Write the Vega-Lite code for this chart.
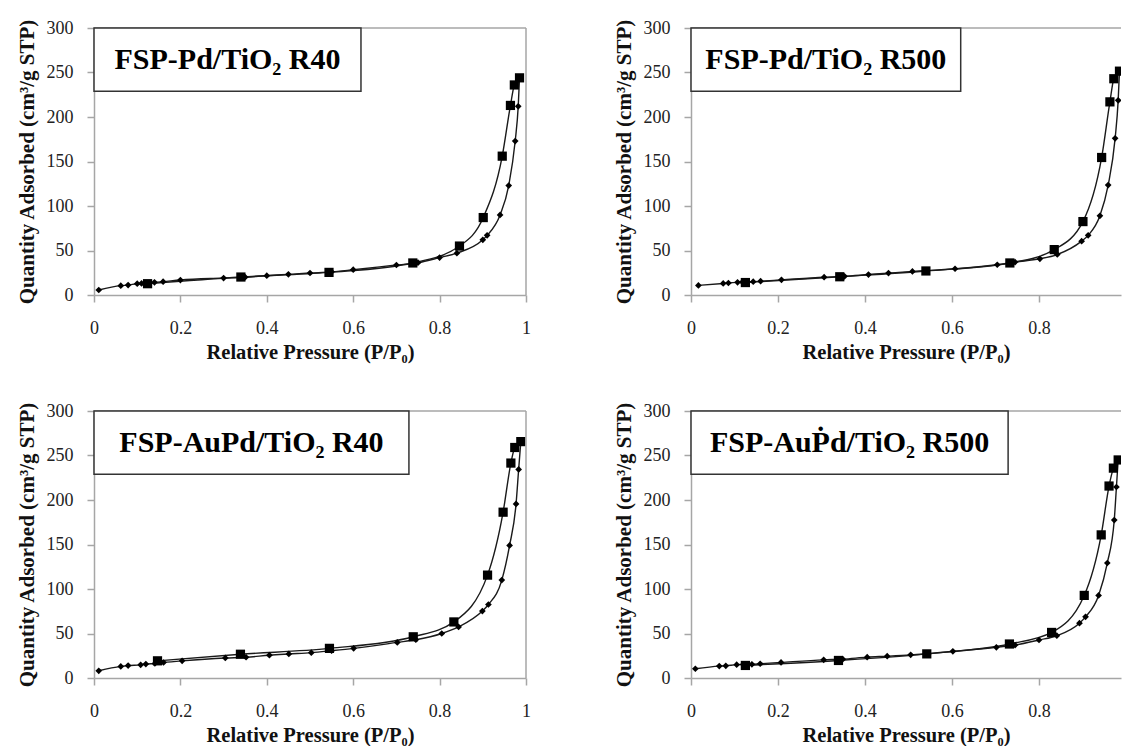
{
"$schema":"https://vega.github.io/schema/vega-lite/v6.json",
"background":"white",
"padding":{"left":15,"top":18,"right":0,"bottom":0},
"datasets":{"iso":[
{"panel":"A","branch":"ads","p":0.011,"q":5.6},{"panel":"A","branch":"ads","p":0.062,"q":10.5},{"panel":"A","branch":"ads","p":0.079,"q":11.2},{"panel":"A","branch":"ads","p":0.1,"q":12.7},{"panel":"A","branch":"ads","p":0.11,"q":13.0},{"panel":"A","branch":"ads","p":0.14,"q":14.2},{"panel":"A","branch":"ads","p":0.16,"q":15.0},{"panel":"A","branch":"ads","p":0.2,"q":16.8},{"panel":"A","branch":"ads","p":0.3,"q":19.0},{"panel":"A","branch":"ads","p":0.35,"q":20.0},{"panel":"A","branch":"ads","p":0.4,"q":21.7},{"panel":"A","branch":"ads","p":0.45,"q":23.2},{"panel":"A","branch":"ads","p":0.5,"q":24.7},{"panel":"A","branch":"ads","p":0.55,"q":26.0},{"panel":"A","branch":"ads","p":0.6,"q":28.4},{"panel":"A","branch":"ads","p":0.7,"q":33.7},{"panel":"A","branch":"ads","p":0.75,"q":36.3},{"panel":"A","branch":"ads","p":0.8,"q":42.0},{"panel":"A","branch":"ads","p":0.84,"q":47.0},{"panel":"A","branch":"ads","p":0.9,"q":62.0},{"panel":"A","branch":"ads","p":0.91,"q":67.0},{"panel":"A","branch":"ads","p":0.94,"q":90.0},{"panel":"A","branch":"ads","p":0.96,"q":123.0},{"panel":"A","branch":"ads","p":0.975,"q":173.0},{"panel":"A","branch":"ads","p":0.982,"q":212.0},{"panel":"A","branch":"ads","p":0.985,"q":244.0},
{"panel":"A","branch":"des","p":0.985,"q":244.0},{"panel":"A","branch":"des","p":0.973,"q":236.0},{"panel":"A","branch":"des","p":0.964,"q":213.0},{"panel":"A","branch":"des","p":0.945,"q":156.0},{"panel":"A","branch":"des","p":0.901,"q":87.0},{"panel":"A","branch":"des","p":0.846,"q":55.0},{"panel":"A","branch":"des","p":0.738,"q":36.0},{"panel":"A","branch":"des","p":0.544,"q":25.4},{"panel":"A","branch":"des","p":0.34,"q":20.2},{"panel":"A","branch":"des","p":0.124,"q":12.7},
{"panel":"B","branch":"ads","p":0.017,"q":10.8},{"panel":"B","branch":"ads","p":0.074,"q":13.0},{"panel":"B","branch":"ads","p":0.086,"q":13.5},{"panel":"B","branch":"ads","p":0.107,"q":14.2},{"panel":"B","branch":"ads","p":0.118,"q":14.5},{"panel":"B","branch":"ads","p":0.143,"q":15.0},{"panel":"B","branch":"ads","p":0.16,"q":15.5},{"panel":"B","branch":"ads","p":0.208,"q":17.0},{"panel":"B","branch":"ads","p":0.306,"q":20.0},{"panel":"B","branch":"ads","p":0.353,"q":21.0},{"panel":"B","branch":"ads","p":0.408,"q":23.0},{"panel":"B","branch":"ads","p":0.454,"q":24.6},{"panel":"B","branch":"ads","p":0.509,"q":26.5},{"panel":"B","branch":"ads","p":0.607,"q":29.5},{"panel":"B","branch":"ads","p":0.704,"q":34.0},{"panel":"B","branch":"ads","p":0.745,"q":37.0},{"panel":"B","branch":"ads","p":0.802,"q":40.7},{"panel":"B","branch":"ads","p":0.842,"q":45.5},{"panel":"B","branch":"ads","p":0.898,"q":60.5},{"panel":"B","branch":"ads","p":0.913,"q":67.0},{"panel":"B","branch":"ads","p":0.94,"q":89.0},{"panel":"B","branch":"ads","p":0.959,"q":123.5},{"panel":"B","branch":"ads","p":0.975,"q":176.0},{"panel":"B","branch":"ads","p":0.982,"q":218.7},{"panel":"B","branch":"ads","p":0.985,"q":251.5},
{"panel":"B","branch":"des","p":0.985,"q":251.5},{"panel":"B","branch":"des","p":0.972,"q":243.0},{"panel":"B","branch":"des","p":0.963,"q":217.0},{"panel":"B","branch":"des","p":0.944,"q":154.5},{"panel":"B","branch":"des","p":0.901,"q":82.5},{"panel":"B","branch":"des","p":0.835,"q":51.0},{"panel":"B","branch":"des","p":0.733,"q":36.0},{"panel":"B","branch":"des","p":0.54,"q":27.0},{"panel":"B","branch":"des","p":0.342,"q":20.5},{"panel":"B","branch":"des","p":0.125,"q":14.0},
{"panel":"C","branch":"ads","p":0.011,"q":8.1},{"panel":"C","branch":"ads","p":0.062,"q":13.0},{"panel":"C","branch":"ads","p":0.079,"q":14.0},{"panel":"C","branch":"ads","p":0.108,"q":14.8},{"panel":"C","branch":"ads","p":0.12,"q":15.6},{"panel":"C","branch":"ads","p":0.141,"q":16.3},{"panel":"C","branch":"ads","p":0.161,"q":17.4},{"panel":"C","branch":"ads","p":0.204,"q":19.3},{"panel":"C","branch":"ads","p":0.304,"q":22.5},{"panel":"C","branch":"ads","p":0.352,"q":23.3},{"panel":"C","branch":"ads","p":0.406,"q":25.6},{"panel":"C","branch":"ads","p":0.451,"q":27.0},{"panel":"C","branch":"ads","p":0.503,"q":28.5},{"panel":"C","branch":"ads","p":0.55,"q":30.7},{"panel":"C","branch":"ads","p":0.601,"q":33.3},{"panel":"C","branch":"ads","p":0.702,"q":40.0},{"panel":"C","branch":"ads","p":0.745,"q":43.0},{"panel":"C","branch":"ads","p":0.805,"q":50.0},{"panel":"C","branch":"ads","p":0.844,"q":57.4},{"panel":"C","branch":"ads","p":0.899,"q":75.2},{"panel":"C","branch":"ads","p":0.913,"q":82.6},{"panel":"C","branch":"ads","p":0.944,"q":110.0},{"panel":"C","branch":"ads","p":0.962,"q":149.0},{"panel":"C","branch":"ads","p":0.977,"q":195.6},{"panel":"C","branch":"ads","p":0.983,"q":234.4},{"panel":"C","branch":"ads","p":0.988,"q":265.6},
{"panel":"C","branch":"des","p":0.988,"q":265.6},{"panel":"C","branch":"des","p":0.974,"q":259.0},{"panel":"C","branch":"des","p":0.965,"q":241.5},{"panel":"C","branch":"des","p":0.947,"q":186.3},{"panel":"C","branch":"des","p":0.911,"q":115.6},{"panel":"C","branch":"des","p":0.833,"q":63.0},{"panel":"C","branch":"des","p":0.739,"q":46.3},{"panel":"C","branch":"des","p":0.545,"q":33.3},{"panel":"C","branch":"des","p":0.339,"q":26.7},{"panel":"C","branch":"des","p":0.147,"q":19.3},
{"panel":"D","branch":"ads","p":0.01,"q":10.4},{"panel":"D","branch":"ads","p":0.065,"q":13.4},{"panel":"D","branch":"ads","p":0.08,"q":13.7},{"panel":"D","branch":"ads","p":0.105,"q":15.0},{"panel":"D","branch":"ads","p":0.12,"q":15.2},{"panel":"D","branch":"ads","p":0.14,"q":15.4},{"panel":"D","branch":"ads","p":0.159,"q":16.0},{"panel":"D","branch":"ads","p":0.207,"q":17.5},{"panel":"D","branch":"ads","p":0.305,"q":20.4},{"panel":"D","branch":"ads","p":0.349,"q":21.2},{"panel":"D","branch":"ads","p":0.405,"q":23.4},{"panel":"D","branch":"ads","p":0.451,"q":24.5},{"panel":"D","branch":"ads","p":0.505,"q":26.0},{"panel":"D","branch":"ads","p":0.602,"q":30.0},{"panel":"D","branch":"ads","p":0.702,"q":34.5},{"panel":"D","branch":"ads","p":0.745,"q":37.0},{"panel":"D","branch":"ads","p":0.8,"q":42.7},{"panel":"D","branch":"ads","p":0.841,"q":47.5},{"panel":"D","branch":"ads","p":0.893,"q":61.6},{"panel":"D","branch":"ads","p":0.907,"q":68.7},{"panel":"D","branch":"ads","p":0.937,"q":92.8},{"panel":"D","branch":"ads","p":0.957,"q":129.2},{"panel":"D","branch":"ads","p":0.973,"q":177.5},{"panel":"D","branch":"ads","p":0.978,"q":214.6},{"panel":"D","branch":"ads","p":0.982,"q":245.0},
{"panel":"D","branch":"des","p":0.982,"q":245.0},{"panel":"D","branch":"des","p":0.971,"q":235.8},{"panel":"D","branch":"des","p":0.961,"q":215.7},{"panel":"D","branch":"des","p":0.943,"q":160.8},{"panel":"D","branch":"des","p":0.904,"q":92.8},{"panel":"D","branch":"des","p":0.829,"q":51.2},{"panel":"D","branch":"des","p":0.732,"q":38.2},{"panel":"D","branch":"des","p":0.542,"q":27.1},{"panel":"D","branch":"des","p":0.339,"q":19.7},{"panel":"D","branch":"des","p":0.125,"q":14.1}
]},
"columns":2,
"bounds":"flush",
"spacing":{"row":116,"column":165},
"concat":[
{"width":432,"height":267,
 "encoding":{
  "x":{"type":"quantitative","scale":{"domain":[0,1],"nice":false,"zero":false},"axis":{"values":[0,0.2,0.4,0.6,0.8,1],"labelExpr":"'' + datum.value","title":"Relative Pressure (P/P₀)"}},
  "y":{"type":"quantitative","scale":{"domain":[0,300],"nice":false},"axis":{"values":[0,50,100,150,200,250,300],"title":"Quantity Adsorbed (cm³/g STP)"}}
 },
 "layer":[
 {"data":{"name":"iso"},"transform":[{"filter":"datum.panel == 'A'"}],"mark":{"type":"line","interpolate":"monotone","color":"#1a1a1a","strokeWidth":1.4,"clip":true},"encoding":{"x":{"field":"p"},"y":{"field":"q"},"detail":{"field":"branch"}}},
 {"data":{"name":"iso"},"transform":[{"filter":"datum.panel == 'A' && datum.branch == 'ads'"}],"mark":{"type":"point","shape":"diamond","filled":true,"size":45,"color":"black","opacity":1,"clip":true},"encoding":{"x":{"field":"p"},"y":{"field":"q"}}},
 {"data":{"name":"iso"},"transform":[{"filter":"datum.panel == 'A' && datum.branch == 'des'"}],"mark":{"type":"point","shape":"square","filled":true,"size":85,"color":"black","opacity":1,"clip":true},"encoding":{"x":{"field":"p"},"y":{"field":"q"}}},
 {"data":{"values":[{}]},"mark":{"type":"rule","color":"#a6a6a6","strokeWidth":1.5},"encoding":{"y":{"datum":300}}},
 {"data":{"values":[{}]},"mark":{"type":"rule","color":"#a6a6a6","strokeWidth":1.5},"encoding":{"x":{"datum":1}}},
 {"data":{"values":[{}]},"mark":{"type":"rect","fill":"white","stroke":"#333333","strokeWidth":1.5},"encoding":{"x":{"datum":0},"x2":{"datum":0.618},"y":{"datum":300},"y2":{"datum":229}}},
 {"data":{"values":[{}]},"mark":{"type":"text","text":"FSP-Pd/TiO₂ R40","font":"Liberation Serif","fontWeight":"bold","fontSize":30,"color":"black","align":"center","baseline":"middle"},"encoding":{"x":{"datum":0.309},"y":{"datum":264.5}}}
]},
{"width":430,"height":267,
 "encoding":{
  "x":{"type":"quantitative","scale":{"domain":[0,0.9885],"nice":false,"zero":false},"axis":{"values":[0,0.2,0.4,0.6,0.8],"labelExpr":"'' + datum.value","title":"Relative Pressure (P/P₀)"}},
  "y":{"type":"quantitative","scale":{"domain":[0,300],"nice":false},"axis":{"values":[0,50,100,150,200,250,300],"title":"Quantity Adsorbed (cm³/g STP)"}}
 },
 "layer":[
 {"data":{"name":"iso"},"transform":[{"filter":"datum.panel == 'B'"}],"mark":{"type":"line","interpolate":"monotone","color":"#1a1a1a","strokeWidth":1.4,"clip":true},"encoding":{"x":{"field":"p"},"y":{"field":"q"},"detail":{"field":"branch"}}},
 {"data":{"name":"iso"},"transform":[{"filter":"datum.panel == 'B' && datum.branch == 'ads'"}],"mark":{"type":"point","shape":"diamond","filled":true,"size":45,"color":"black","opacity":1,"clip":true},"encoding":{"x":{"field":"p"},"y":{"field":"q"}}},
 {"data":{"name":"iso"},"transform":[{"filter":"datum.panel == 'B' && datum.branch == 'des'"}],"mark":{"type":"point","shape":"square","filled":true,"size":85,"color":"black","opacity":1,"clip":true},"encoding":{"x":{"field":"p"},"y":{"field":"q"}}},
 {"data":{"values":[{}]},"mark":{"type":"rule","color":"#a6a6a6","strokeWidth":1.5},"encoding":{"y":{"datum":300}}},
 {"data":{"values":[{}]},"mark":{"type":"rect","fill":"white","stroke":"#333333","strokeWidth":1.5},"encoding":{"x":{"datum":0},"x2":{"datum":0.62},"y":{"datum":300},"y2":{"datum":229}}},
 {"data":{"values":[{}]},"mark":{"type":"text","text":"FSP-Pd/TiO₂ R500","font":"Liberation Serif","fontWeight":"bold","fontSize":30,"color":"black","align":"center","baseline":"middle"},"encoding":{"x":{"datum":0.31},"y":{"datum":264.5}}}
]},
{"width":432,"height":267,
 "encoding":{
  "x":{"type":"quantitative","scale":{"domain":[0,1],"nice":false,"zero":false},"axis":{"values":[0,0.2,0.4,0.6,0.8,1],"labelExpr":"'' + datum.value","title":"Relative Pressure (P/P₀)"}},
  "y":{"type":"quantitative","scale":{"domain":[0,300],"nice":false},"axis":{"values":[0,50,100,150,200,250,300],"title":"Quantity Adsorbed (cm³/g STP)"}}
 },
 "layer":[
 {"data":{"name":"iso"},"transform":[{"filter":"datum.panel == 'C'"}],"mark":{"type":"line","interpolate":"monotone","color":"#1a1a1a","strokeWidth":1.4,"clip":true},"encoding":{"x":{"field":"p"},"y":{"field":"q"},"detail":{"field":"branch"}}},
 {"data":{"name":"iso"},"transform":[{"filter":"datum.panel == 'C' && datum.branch == 'ads'"}],"mark":{"type":"point","shape":"diamond","filled":true,"size":45,"color":"black","opacity":1,"clip":true},"encoding":{"x":{"field":"p"},"y":{"field":"q"}}},
 {"data":{"name":"iso"},"transform":[{"filter":"datum.panel == 'C' && datum.branch == 'des'"}],"mark":{"type":"point","shape":"square","filled":true,"size":85,"color":"black","opacity":1,"clip":true},"encoding":{"x":{"field":"p"},"y":{"field":"q"}}},
 {"data":{"values":[{}]},"mark":{"type":"rule","color":"#a6a6a6","strokeWidth":1.5},"encoding":{"y":{"datum":300}}},
 {"data":{"values":[{}]},"mark":{"type":"rule","color":"#a6a6a6","strokeWidth":1.5},"encoding":{"x":{"datum":1}}},
 {"data":{"values":[{}]},"mark":{"type":"rect","fill":"white","stroke":"#333333","strokeWidth":1.5},"encoding":{"x":{"datum":0},"x2":{"datum":0.729},"y":{"datum":300},"y2":{"datum":229}}},
 {"data":{"values":[{}]},"mark":{"type":"text","text":"FSP-AuPd/TiO₂ R40","font":"Liberation Serif","fontWeight":"bold","fontSize":30,"color":"black","align":"center","baseline":"middle"},"encoding":{"x":{"datum":0.3645},"y":{"datum":264.5}}}
]},
{"width":430,"height":267,
 "encoding":{
  "x":{"type":"quantitative","scale":{"domain":[0,0.9885],"nice":false,"zero":false},"axis":{"values":[0,0.2,0.4,0.6,0.8],"labelExpr":"'' + datum.value","title":"Relative Pressure (P/P₀)"}},
  "y":{"type":"quantitative","scale":{"domain":[0,300],"nice":false},"axis":{"values":[0,50,100,150,200,250,300],"title":"Quantity Adsorbed (cm³/g STP)"}}
 },
 "layer":[
 {"data":{"name":"iso"},"transform":[{"filter":"datum.panel == 'D'"}],"mark":{"type":"line","interpolate":"monotone","color":"#1a1a1a","strokeWidth":1.4,"clip":true},"encoding":{"x":{"field":"p"},"y":{"field":"q"},"detail":{"field":"branch"}}},
 {"data":{"name":"iso"},"transform":[{"filter":"datum.panel == 'D' && datum.branch == 'ads'"}],"mark":{"type":"point","shape":"diamond","filled":true,"size":45,"color":"black","opacity":1,"clip":true},"encoding":{"x":{"field":"p"},"y":{"field":"q"}}},
 {"data":{"name":"iso"},"transform":[{"filter":"datum.panel == 'D' && datum.branch == 'des'"}],"mark":{"type":"point","shape":"square","filled":true,"size":85,"color":"black","opacity":1,"clip":true},"encoding":{"x":{"field":"p"},"y":{"field":"q"}}},
 {"data":{"values":[{}]},"mark":{"type":"rule","color":"#a6a6a6","strokeWidth":1.5},"encoding":{"y":{"datum":300}}},
 {"data":{"values":[{}]},"mark":{"type":"rect","fill":"white","stroke":"#333333","strokeWidth":1.5},"encoding":{"x":{"datum":0},"x2":{"datum":0.729},"y":{"datum":300},"y2":{"datum":229}}},
 {"data":{"values":[{}]},"mark":{"type":"text","text":"FSP-AuṖd/TiO₂ R500","font":"Liberation Serif","fontWeight":"bold","fontSize":30,"color":"black","align":"center","baseline":"middle"},"encoding":{"x":{"datum":0.3645},"y":{"datum":264.5}}}
]}
],
"config":{
 "view":{"stroke":null},
 "axis":{"grid":false,"domainColor":"#a6a6a6","domainWidth":1.5,"tickColor":"#a6a6a6","tickWidth":1.5,"tickSize":7,"labelFont":"Liberation Serif","labelFontSize":18,"labelColor":"#222222","labelFlush":false,"labelOverlap":false,"titleFont":"Liberation Serif","titleFontSize":21,"titleFontWeight":"bold","titleColor":"#111111"},
 "axisX":{"labelPadding":17,"titlePadding":5,"titleFontSize":20.5},
 "axisY":{"labelPadding":14,"titlePadding":9}
}
}
